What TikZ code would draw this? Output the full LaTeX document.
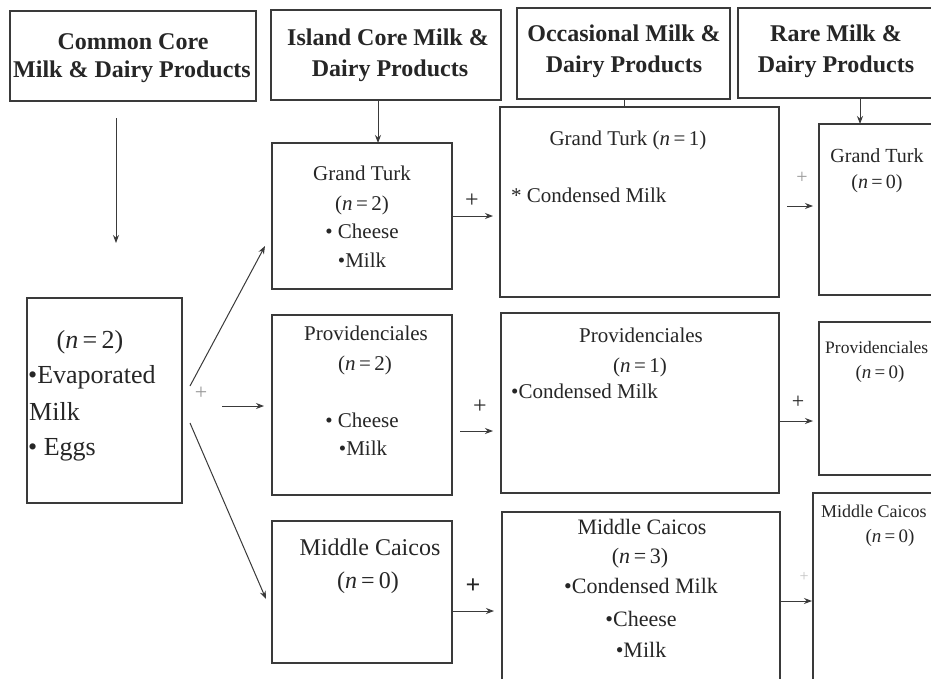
\documentclass[tikz,border=0pt]{standalone}
\usepackage{fontspec}
\setmainfont{Liberation Serif}
\usetikzlibrary{arrows.meta}
\definecolor{linec}{HTML}{3A3A3A}
\definecolor{txt}{HTML}{262626}
\definecolor{lightp}{HTML}{9A9A9A}
\definecolor{faintp}{HTML}{C4C4C4}
\newcommand\mybox[5]{\node[box, minimum width={(#4-#2)*1pt}, minimum height={(#5-#3)*1pt}] (#1) at (#2,#3) {};}
\begin{document}
\begin{tikzpicture}[x=1pt,y=-1pt,
  box/.style={draw=linec, line width=1.1pt, inner sep=0pt, outer sep=0pt, anchor=north west},
  hd/.style={font=\fontsize{24}{28}\bfseries\selectfont, text=txt, inner sep=0pt, anchor=base},
  tx/.style={font=\fontsize{#1}{#1}\selectfont, text=txt, inner sep=0pt, anchor=base},
  txw/.style={font=\fontsize{#1}{#1}\selectfont, text=txt, inner sep=0pt, anchor=base west},
  pl/.style={font=\fontsize{#1}{#1}\selectfont, inner sep=0pt, anchor=center},
  arr/.style={draw=linec, line width=1pt, -{Stealth[length=8pt,width=6pt]}},
  ln/.style={draw=linec, line width=1pt}]
\clip (0,0) rectangle (931,678);
\fill[white] (0,0) rectangle (931,678);
% header boxes
\mybox{h1}{10}{11}{256}{101}
\mybox{h2}{271}{10}{501}{100}
\mybox{h3}{517}{8}{730}{99}
\mybox{h4}{738}{8}{950}{98}
\node[hd] (h1a) at (133,49) {Common Core};
\node[hd] (h1b) at (132,77) {Milk \& Dairy Products};
\node[hd] (h2a) at (388,45) {Island Core Milk \&};
\node[hd] (h2b) at (390,76) {Dairy Products};
\node[hd] (h3a) at (624,41) {Occasional Milk \&};
\node[hd] (h3b) at (624,72) {Dairy Products};
\node[hd] (h4a) at (836,41) {Rare Milk \&};
\node[hd] (h4b) at (836,72) {Dairy Products};
% column 1
\mybox{c1}{27}{298}{182}{503}
\node[tx=26] (c1a) at (90,348) {(\textit{n}\,=\,2)};
\node[txw=26] (c1b) at (28,383) {•Evaporated};
\node[txw=26] (c1c) at (29,420) {Milk};
\node[txw=26] (c1d) at (28,455) {• Eggs};
% column 2
\mybox{g2}{272}{143}{452}{289}
\node[tx=21] (g2a) at (362,180) {Grand Turk};
\node[tx=21] (g2b) at (362,210) {(\textit{n}\,=\,2)};
\node[tx=21] (g2c) at (362,238) {• Cheese};
\node[tx=21] (g2d) at (362,267) {•Milk};
\mybox{p2}{272}{315}{452}{495}
\node[tx=21] (p2a) at (366,340) {Providenciales};
\node[tx=21] (p2b) at (365,370) {(\textit{n}\,=\,2)};
\node[tx=21] (p2c) at (362,427) {• Cheese};
\node[tx=21] (p2d) at (363,455) {•Milk};
\mybox{m2}{272}{521}{452}{663}
\node[tx=24] (m2a) at (370,555) {Middle Caicos};
\node[tx=24] (m2b) at (368,588) {(\textit{n}\,=\,0)};
% column 3
\mybox{g3}{500}{107}{779}{297}
\node[tx=21] (g3a) at (628,145) {Grand Turk (\textit{n}\,=\,1)};
\node[txw=21] (g3b) at (511,202) {* Condensed Milk};
\mybox{p3}{501}{313}{779}{493}
\node[tx=21] (p3a) at (641,342) {Providenciales};
\node[tx=21] (p3b) at (640,372) {(\textit{n}\,=\,1)};
\node[txw=21] (p3c) at (511,398) {•Condensed Milk};
\mybox{m3}{502}{512}{780}{700}
\node[tx=22] (m3a) at (642,534) {Middle Caicos};
\node[tx=22] (m3b) at (640,563) {(\textit{n}\,=\,3)};
\node[tx=22] (m3c) at (641,593) {•Condensed Milk};
\node[tx=22] (m3d) at (641,626) {•Cheese};
\node[tx=22] (m3e) at (641,657) {•Milk};
% column 4
\mybox{g4}{819}{124}{950}{295}
\node[tx=20] (g4a) at (877,162) {Grand Turk};
\node[tx=20] (g4b) at (877,188) {(\textit{n}\,=\,0)};
\mybox{p4}{819}{322}{950}{475}
\node[txw=17.5] (p4a) at (825,353) {Providenciales};
\node[tx=19] (p4b) at (880,378) {(\textit{n}\,=\,0)};
\mybox{m4}{813}{493}{950}{700}
\node[txw=18] (m4a) at (821,517) {Middle Caicos};
\node[tx=19] (m4b) at (890,542) {(\textit{n}\,=\,0)};
% header connectors
\coordinate (x2) at (378,0);
\coordinate (x3) at (624,0);
\coordinate (x4) at (860,0);
\coordinate (a1s) at (116,118);
\coordinate (a1e) at (116,243);
\draw[arr] (a1s) -- (a1e);
\draw[arr] (h2.south -| x2) -- (g2.north -| x2);
\draw[ln] (h3.south -| x3) -- (g3.north -| x3);
\draw[arr] (h4.south -| x4) -- (g4.north -| x4);
% column 1 -> column 2
\coordinate (b1s) at (190,386);
\coordinate (b1e) at (265,246);
\coordinate (b2s) at (222,406);
\coordinate (b2e) at (264,406);
\coordinate (b3s) at (190,423);
\coordinate (b3e) at (266,599);
\draw[arr] (b1s) -- (b1e);
\draw[arr] (b2s) -- (b2e);
\draw[arr] (b3s) -- (b3e);
\node[pl=22, text=lightp] (pl1) at (201,393) {+};
% column 2 -> column 3
\coordinate (c1e) at (493,216);
\draw[arr] (g2.east |- c1e) -- (c1e);
\node[pl=24, text=txt] (pl2) at (472,201) {+};
\coordinate (c2s) at (460,431);
\coordinate (c2e) at (493,431);
\draw[arr] (c2s) -- (c2e);
\node[pl=24, text=txt] (pl3) at (480,407) {+};
\coordinate (c3e) at (494,611);
\draw[arr] (m2.east |- c3e) -- (c3e);
\node[pl=26, text=txt] (pl4) at (473,586) {\textbf{+}};
% column 3 -> column 4
\coordinate (d1s) at (787,206);
\coordinate (d1e) at (813,206);
\draw[arr] (d1s) -- (d1e);
\node[pl=20, text=lightp] (pl5) at (802,178) {+};
\coordinate (d2e) at (813,421);
\draw[arr] (p3.east |- d2e) -- (d2e);
\node[pl=22, text=txt] (pl6) at (798,402) {+};
\coordinate (d3e) at (812,601);
\draw[arr] (m3.east |- d3e) -- (d3e);
\node[pl=16, text=faintp] (pl7) at (804,577) {+};
\end{tikzpicture}
\end{document}
